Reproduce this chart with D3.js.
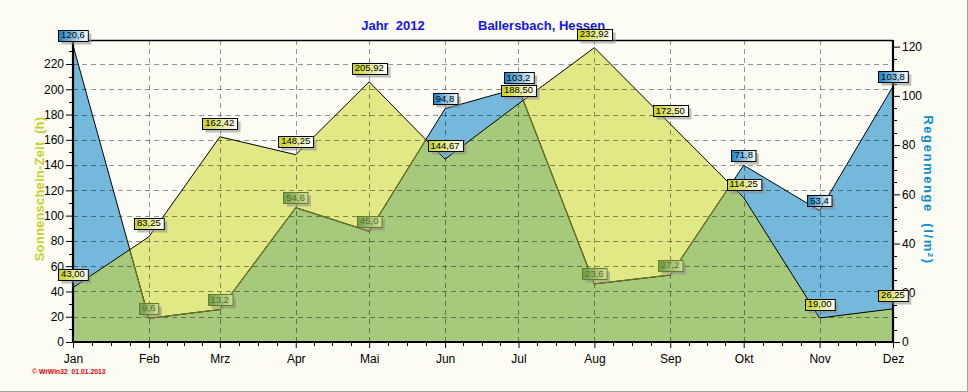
<!DOCTYPE html>
<html><head><meta charset="utf-8">
<script src="https://cdn.jsdelivr.net/npm/d3@7"></script>
<style>
html,body{margin:0;padding:0;background:#fcfcf4;}
svg{display:block;font-family:"Liberation Sans",Arial,sans-serif;}
</style></head>
<body>
<svg id="c" width="968" height="392"></svg>
<script>
const months = ["Jan","Feb","Mrz","Apr","Mai","Jun","Jul","Aug","Sep","Okt","Nov","Dez"];
const sunHours = [43.00, 83.25, 162.42, 148.25, 205.92, 144.67, 188.50, 232.92, 172.50, 114.25, 19.00, 26.25];
const rainMm = [120.6, 9.6, 13.2, 54.6, 45.0, 94.8, 103.2, 23.6, 27.2, 71.8, 53.4, 103.8];
const leftTicks = [0,20,40,60,80,100,120,140,160,180,200,220];
const rightTicks = [0,20,40,60,80,100,120];
const titleLeft = "Jahr  2012";
const titleRight = "Ballersbach, Hessen";
const leftLabel = "Sonnenschein-Zeit  (h)";
const rightLabel = "Regenmenge  (l/m²)";
const footer = "© WrWin32  01.01.2013";

const svg = d3.select("#c");
const L = 73, R = 893, T = 40, B = 342;
const dates = months.map((m,i)=>new Date(2012,i,1));
const x = d3.scaleTime().domain([dates[0], dates[11]]).range([L,R]);
const yL = d3.scaleLinear().domain([0,239]).range([B,T]);
const yR = d3.scaleLinear().domain([0,122.7]).range([B,T]);

// frame
svg.append("rect").attr("width",968).attr("height",392).attr("fill","#fcfcf4");
svg.append("line").attr("x1",967.5).attr("x2",967.5).attr("y1",0).attr("y2",392).attr("stroke","#a0a0a0");
svg.append("line").attr("x1",0).attr("x2",968).attr("y1",391.5).attr("y2",391.5).attr("stroke","#a0a0a0");

const defs = svg.append("defs");
function grad(id, c1, c2){
  const g = defs.append("linearGradient").attr("id",id).attr("x1","0").attr("x2","1").attr("y1","0").attr("y2","0");
  g.append("stop").attr("offset","0").attr("stop-color",c1);
  g.append("stop").attr("offset","1").attr("stop-color",c2);
}
grad("gBlue","#1283c8","#ffffff");
grad("gYel","#c8d21c","#ffffff");
grad("gGrn","#6a9e4c","#cfe09e");

const sunArea = d3.area().x((d,i)=>x(dates[i])).y0(B).y1(d=>yL(d));
const rainArea = d3.area().x((d,i)=>x(dates[i])).y0(B).y1(d=>yR(d));
const sunLine = d3.line().x((d,i)=>x(dates[i])).y(d=>yL(d));
const rainLine = d3.line().x((d,i)=>x(dates[i])).y(d=>yR(d));

defs.append("clipPath").attr("id","clipRain").append("path").attr("d",rainArea(rainMm));
defs.append("clipPath").attr("id","clipSun").append("path").attr("d",sunArea(sunHours));

svg.append("path").attr("d",sunArea(sunHours)).attr("fill","#e3e887");
svg.append("path").attr("d",rainArea(rainMm)).attr("fill","#74b9dc");
svg.append("path").attr("d",sunArea(sunHours)).attr("fill","#a7c97b").attr("clip-path","url(#clipRain)");

// grid
const grid = svg.append("g").attr("stroke","#000").attr("stroke-opacity",0.42).attr("stroke-dasharray","5,4").attr("stroke-width",1);
leftTicks.filter(v=>v>0).forEach(v=>{
  grid.append("line").attr("x1",L).attr("x2",R).attr("y1",Math.round(yL(v))+0.5).attr("y2",Math.round(yL(v))+0.5);
});
dates.slice(1,11).forEach(d=>{
  grid.append("line").attr("x1",Math.round(x(d))+0.5).attr("x2",Math.round(x(d))+0.5).attr("y1",T).attr("y2",B);
});

// outlines
svg.append("path").attr("d",rainLine(rainMm)).attr("fill","none").attr("stroke","#000").attr("stroke-width",1);
svg.append("path").attr("d",rainLine(rainMm)).attr("fill","none").attr("stroke","#6e7a22").attr("stroke-width",1.2).attr("clip-path","url(#clipSun)");
svg.append("path").attr("d",sunLine(sunHours)).attr("fill","none").attr("stroke","#000").attr("stroke-width",1);

// axes
const axisG = svg.append("g");
axisG.append("line").attr("x1",L).attr("x2",R).attr("y1",T+0.5).attr("y2",T+0.5).attr("stroke","#000").attr("stroke-width",1.5);
axisG.append("line").attr("x1",L).attr("x2",L).attr("y1",T).attr("y2",B+1).attr("stroke","#000").attr("stroke-width",2.2);
axisG.append("line").attr("x1",R).attr("x2",R).attr("y1",T).attr("y2",B+1).attr("stroke","#000").attr("stroke-width",2.2);
axisG.append("line").attr("x1",L).attr("x2",R+1).attr("y1",B).attr("y2",B).attr("stroke","#000").attr("stroke-width",2.2);

const leftAxis = d3.axisLeft(yL).tickValues(leftTicks).tickSize(6).tickPadding(2);
const gl = svg.append("g").attr("transform",`translate(${L-1},0)`).call(leftAxis);
gl.select(".domain").remove();
gl.selectAll("text").attr("font-size",12).attr("fill","#000").attr("font-family","Liberation Sans, Arial, sans-serif");
d3.range(10,239,20).forEach(v=>{
  svg.append("line").attr("x1",L-4).attr("x2",L).attr("y1",Math.round(yL(v))+0.5).attr("y2",Math.round(yL(v))+0.5).attr("stroke","#000");
});
const rightAxis = d3.axisRight(yR).tickValues(rightTicks).tickSize(6).tickPadding(2);
const gr = svg.append("g").attr("transform",`translate(${R+1},0)`).call(rightAxis);
gr.select(".domain").remove();
gr.selectAll("text").attr("font-size",12).attr("fill","#000").attr("font-family","Liberation Sans, Arial, sans-serif");
d3.range(5,122,5).filter(v=>v%20!==0).forEach(v=>{
  svg.append("line").attr("x1",R).attr("x2",R+4).attr("y1",Math.round(yR(v))+0.5).attr("y2",Math.round(yR(v))+0.5).attr("stroke","#000");
});
const bottomAxis = d3.axisBottom(x).tickValues(dates).tickSize(6).tickPadding(6).tickFormat((d,i)=>months[i]);
const gb = svg.append("g").attr("transform",`translate(0,${B})`).call(bottomAxis);
gb.select(".domain").remove();
gb.selectAll("text").attr("font-size",12).attr("fill","#000").attr("font-family","Liberation Sans, Arial, sans-serif");
for(let i=0;i<11;i++){
  for(let k=1;k<4;k++){
    const t = new Date(dates[i].getTime() + k/4*(dates[i+1]-dates[i]));
    const px = Math.round(x(t))+0.5;
    svg.append("line").attr("x1",px).attr("x2",px).attr("y1",B).attr("y2",B+4).attr("stroke","#000");
  }
}

// titles
svg.append("text").attr("x",393).attr("y",30).attr("text-anchor","middle").attr("font-size",13).attr("font-weight","bold").attr("fill","#1414ee").style("white-space","pre").text(titleLeft);
svg.append("text").attr("x",478).attr("y",30).attr("font-size",13).attr("font-weight","bold").attr("fill","#1414ee").text(titleRight);
svg.append("text").attr("transform","translate(44,189) rotate(-90)").attr("text-anchor","middle").attr("font-size",13).attr("font-weight","bold").attr("fill","#c9d02a").attr("letter-spacing",0.2).style("white-space","pre").text(leftLabel);
svg.append("text").attr("transform","translate(924,190) rotate(90)").attr("text-anchor","middle").attr("font-size",13).attr("font-weight","bold").attr("fill","#0a8cd2").attr("letter-spacing",1.6).style("white-space","pre").text(rightLabel);
svg.append("text").attr("x",32).attr("y",374).attr("font-size",6.8).attr("font-weight","bold").attr("fill","#e00000").style("white-space","pre").text(footer);

// data labels
function label(cx, by, txt, style){
  const g = svg.append("g");
  const t = g.append("text").attr("font-size",9.5).attr("text-anchor","middle").attr("x",cx).attr("y",by-2.5).text(txt);
  const w = t.node().getComputedTextLength() + 6;
  const h = 11;
  const x0 = Math.round(cx - w/2)+0.5, y0 = Math.round(by - h)+0.5;
  g.insert("rect","text").attr("x",x0+3).attr("y",y0+3).attr("width",w).attr("height",h).attr("fill","#8a8a8a").attr("opacity",0.55);
  g.insert("rect","text").attr("x",x0).attr("y",y0).attr("width",w).attr("height",h)
    .attr("fill",`url(#${style.grad})`).attr("stroke",style.stroke).attr("stroke-width",1);
  t.attr("fill",style.text);
}
const fmt2 = v=>d3.format(".2f")(v).replace(".",",");
const fmt1 = v=>d3.format(".1f")(v).replace(".",",");
rainMm.forEach((v,i)=>{
  const inside = yR(v) > yL(sunHours[i]);
  const st = inside ? {grad:"gGrn",stroke:"#6e7a22",text:"#5e6a1e"} : {grad:"gBlue",stroke:"#000",text:"#000"};
  label(x(dates[i]), yR(v)-4.5, fmt1(v), st);
});
sunHours.forEach((v,i)=>{
  label(x(dates[i]), yL(v)-8, fmt2(v), {grad:"gYel",stroke:"#000",text:"#000"});
});
</script>
</body></html>
